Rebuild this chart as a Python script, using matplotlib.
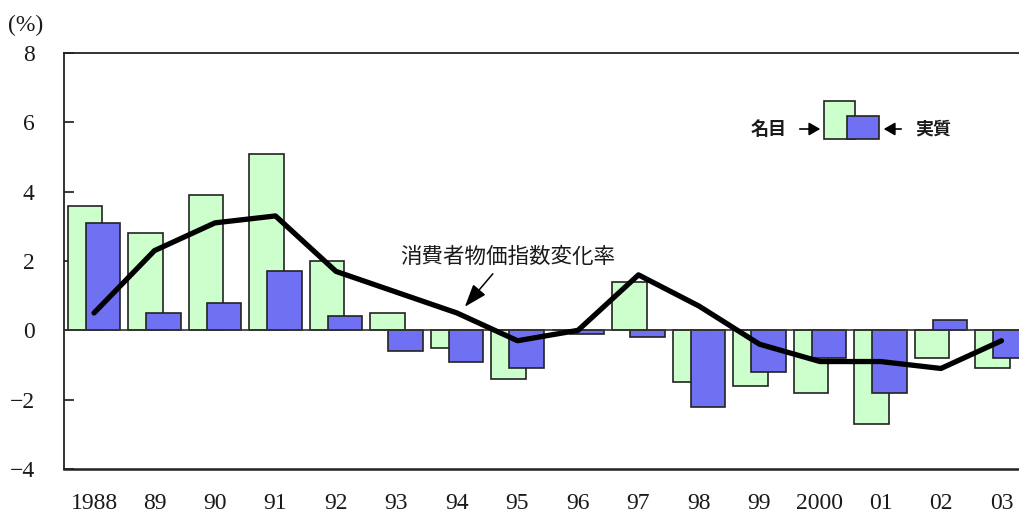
import numpy as np
import matplotlib
matplotlib.use("Agg")
import matplotlib.pyplot as plt
from matplotlib.patches import Rectangle, FancyArrowPatch

# --- data -------------------------------------------------------------
years = ["1988", "89", "90", "91", "92", "93", "94", "95",
         "96", "97", "98", "99", "2000", "01", "02", "03"]
nominal = [3.6, 2.8, 3.9, 5.1, 2.0, 0.5, -0.5, -1.4,
           0.0, 1.4, -1.5, -1.6, -1.8, -2.7, -0.8, -1.1]
real = [3.1, 0.5, 0.8, 1.7, 0.4, -0.6, -0.9, -1.1,
        -0.1, -0.2, -2.2, -1.2, -0.8, -1.8, 0.3, -0.8]
cpi = [0.5, 2.3, 3.1, 3.3, 1.7, 1.1, 0.5, -0.3,
       0.0, 1.6, 0.7, -0.4, -0.9, -0.9, -1.1, -0.3]
y_ticks = [8, 6, 4, 2, 0, -2, -4]

GREEN = "#CCFFCC"
BLUE = "#7070F2"
INK = "#1a1a1a"
SERIF = "Liberation Serif"
JP = ["Noto Sans CJK JP", "DejaVu Sans"]

fig = plt.figure(figsize=(10.19, 5.16), dpi=100)
ax = fig.add_axes([64 / 1019, 1 - 469 / 516, 1 - 64 / 1019, (469 - 53) / 516])

x = np.arange(len(years))
w = 0.57
off = 0.152
ax.bar(x - off, nominal, width=w, color=GREEN, edgecolor="#222222",
       linewidth=1.2, zorder=2)
ax.bar(x + off, real, width=w, color=BLUE, edgecolor="#222222",
       linewidth=1.2, zorder=3)
ax.axhline(0, color="#333333", linewidth=1.2, zorder=3.5)
ax.plot(x, cpi, color="black", linewidth=3.8, solid_joinstyle="round",
        solid_capstyle="round", zorder=4)

ax.set_xlim(-0.496, 15.29)
ax.set_ylim(-4, 8)
ax.set_yticks(y_ticks)
ax.set_yticklabels([str(v).replace("-", "\u2212") for v in y_ticks],
                   fontfamily=SERIF, fontsize=17)
ax.tick_params(axis="y", direction="in", length=7, width=1.2, pad=21,
               colors=INK)
ax.set_xticks(x)
ax.set_xticklabels(years, fontfamily=SERIF, fontsize=17)
ax.tick_params(axis="x", length=0, pad=17, colors=INK)

ax.spines["right"].set_visible(False)
for s in ("left", "top", "bottom"):
    ax.spines[s].set_linewidth(1.3)
    ax.spines[s].set_color("#222222")
ax.spines["bottom"].set_linewidth(1.8)

fig.text(8 / 1019, 1 - 25 / 516, "(%)", fontfamily=SERIF, fontsize=17,
         va="center", ha="left", color=INK)


def px(xp, yp):
    return (xp / 1019, 1 - yp / 516)


# legend: overlapping swatches with arrows
lx, ly = px(824, 139)
fig.patches.append(Rectangle((lx, ly), 31 / 1019, 38 / 516, transform=fig.transFigure,
                             facecolor=GREEN, edgecolor="#222222", linewidth=1.2))
bx, by = px(847, 139)
fig.patches.append(Rectangle((bx, by), 32 / 1019, 23 / 516, transform=fig.transFigure,
                             facecolor=BLUE, edgecolor="#222222", linewidth=1.2))
fig.text(*px(769, 129), "名目", fontfamily=JP, fontsize=13, fontweight="bold",
         ha="center", va="center", color=INK)
fig.text(*px(933, 129), "実質", fontfamily=JP, fontsize=13, fontweight="bold",
         ha="center", va="center", color=INK)
fig.add_artist(FancyArrowPatch(
    px(797, 129), px(823, 129), transform=fig.transFigure,
    arrowstyle="-|>,head_length=4.5,head_width=2.6", mutation_scale=1.5,
    color="black", linewidth=1.2))
fig.add_artist(FancyArrowPatch(
    px(904, 129), px(881, 129), transform=fig.transFigure,
    arrowstyle="-|>,head_length=4.5,head_width=2.6", mutation_scale=1.5,
    color="black", linewidth=1.2))

# annotation for the CPI line
ax.annotate("消費者物価指数変化率", xy=(6.13, 0.68), xytext=(6.83, 2.12),
            fontfamily=JP, fontsize=15.5, ha="center", va="center",
            color=INK,
            arrowprops=dict(arrowstyle="-|>,head_length=0.9,head_width=0.32",
                            color="black", linewidth=1.1,
                            shrinkA=3, shrinkB=0))

fig.savefig("out.png", dpi=100)
